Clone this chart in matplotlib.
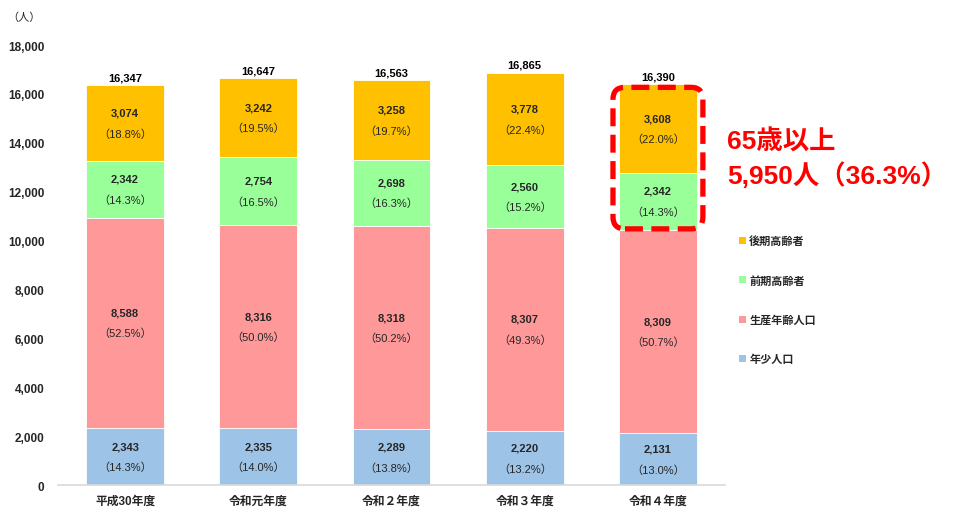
import matplotlib
matplotlib.use("Agg")
import matplotlib.pyplot as plt
from matplotlib.patches import FancyBboxPatch, Patch
from matplotlib.ticker import FuncFormatter

plt.rcParams['font.family'] = ['Liberation Sans', 'Noto Sans CJK JP', 'DejaVu Sans']

# data
years = ['平成30年度', '令和元年度', '令和２年度', '令和３年度', '令和４年度']
young = [2343, 2335, 2289, 2220, 2131]
working = [8588, 8316, 8318, 8307, 8309]
early_old = [2342, 2754, 2698, 2560, 2342]
late_old = [3074, 3242, 3258, 3778, 3608]
totals = [16347, 16647, 16563, 16865, 16390]
young_pct = [14.3, 14.0, 13.8, 13.2, 13.0]
working_pct = [52.5, 50.0, 50.2, 49.3, 50.7]
early_pct = [14.3, 16.5, 16.3, 15.2, 14.3]
late_pct = [18.8, 19.5, 19.7, 22.4, 22.0]
series_names = ['年少人口', '生産年齢人口', '前期高齢者', '後期高齢者']
colors = ['#9DC3E6', '#FF9999', '#99FF99', '#FFC000']
over65_label = '65歳以上\n5,950人（36.3%）'

fig = plt.figure(figsize=(9.57, 5.10), dpi=100)
ax = fig.add_axes([0.0611, 0.047, 0.696, 0.8627])

x = list(range(len(years)))
width = 0.585
series = [young, working, early_old, late_old]
pcts = [young_pct, working_pct, early_pct, late_pct]
bottom = [0] * len(years)
for vals, pc, col in zip(series, pcts, colors):
    ax.bar(x, vals, width, bottom=bottom, color=col, edgecolor='white', linewidth=0.6)
    for i in x:
        mid = bottom[i] + vals[i] / 2
        ax.text(i, mid + 420, f'{vals[i]:,}', ha='center', va='center',
                fontsize=8, fontweight='bold', color='#262626')
        ax.text(i, mid - 420, f'（{pc[i]:.1f}%）', ha='center', va='center',
                fontsize=8, color='#262626')
    bottom = [b + v for b, v in zip(bottom, vals)]

for i in x:
    ax.text(i, totals[i] + 330, f'{totals[i]:,}', ha='center', va='center',
            fontsize=8, fontweight='bold', color='black')

ax.set_xlim(-0.5, 4.5)
ax.set_ylim(0, 18000)
ax.set_yticks(range(0, 18001, 2000))
ax.yaxis.set_major_formatter(FuncFormatter(lambda v, p: f'{int(v):,}'))
ax.set_xticks(x)
ax.set_xticklabels(years)
for lab in ax.get_xticklabels() + ax.get_yticklabels():
    lab.set_fontweight('bold')
    lab.set_fontsize(8.5)
    lab.set_color('#262626')
ax.tick_params(axis='y', length=0, pad=10)
ax.tick_params(axis='x', length=0, pad=7)
for s in ['top', 'right', 'left']:
    ax.spines[s].set_visible(False)
ax.spines['bottom'].set_color('#d9d9d9')
ax.spines['bottom'].set_linewidth(1.2)

fig.text(0.008, 0.965, '（人）', fontsize=8, color='#262626', va='center')

# dashed box around the 65+ segments of the last bar
last = len(years) - 1
pad = 0.045
y0 = young[last] + working[last] + 40
y1 = totals[last] - 120
box = FancyBboxPatch((last - width / 2 - pad, y0), width + 2 * pad, y1 - y0,
                     boxstyle='round,pad=0,rounding_size=0.09',
                     mutation_aspect=5450, fill=False, edgecolor='#FF0000',
                     linewidth=3.8, linestyle=(0, (3.4, 1.6)), clip_on=False, zorder=5)
ax.add_patch(box)
ax.text(4.52, 13380, over65_label, ha='left', va='center', fontsize=19,
        fontweight='bold', color='#FF0000', linespacing=1.35, clip_on=False)

handles = [Patch(facecolor=c, edgecolor='none') for c in colors][::-1]
leg = ax.legend(handles, series_names[::-1], loc='center left',
                bbox_to_anchor=(0.762, 0.41), bbox_transform=fig.transFigure,
                frameon=False, handlelength=0.6, handleheight=0.6,
                handletextpad=0.3, labelspacing=2.58,
                prop={'size': 8, 'weight': 'bold'})
for t in leg.get_texts():
    t.set_color('#262626')

fig.savefig('out.png', dpi=100)
